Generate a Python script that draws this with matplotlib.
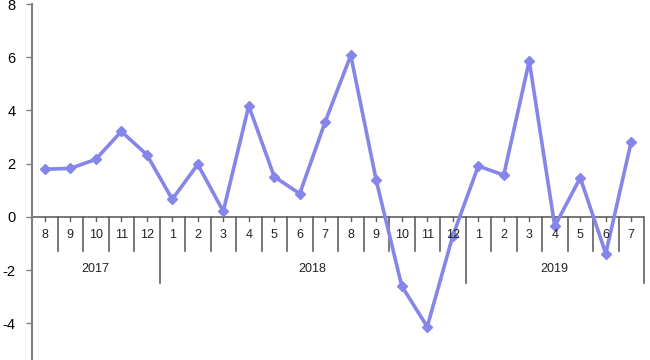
import numpy as np
import matplotlib
matplotlib.use('Agg')
import matplotlib.pyplot as plt

plt.rcParams['font.family'] = ['Liberation Sans', 'DejaVu Sans']

# months shown on the x axis, grouped by year
years = ['2017', '2018', '2019']
months = [
    [8, 9, 10, 11, 12],
    [1, 2, 3, 4, 5, 6, 7, 8, 9, 10, 11, 12],
    [1, 2, 3, 4, 5, 6, 7],
]
values = [1.79, 1.82, 2.16, 3.21, 2.34,
          0.66, 1.97, 0.21, 4.17, 1.51, 0.87, 3.58, 6.07, 1.37, -2.60, -4.13, -0.72,
          1.91, 1.57, 5.86, -0.35, 1.47, -1.38, 2.83]

line_col = '#8585ea'
axis_col = '#808080'

fig = plt.figure(figsize=(6.5, 3.6), dpi=100)
ax = fig.add_axes([32 / 650, 0, 612 / 650, 356 / 360])

x = np.arange(len(values))
ax.plot(x, values, color=line_col, lw=2.6, marker='D', ms=5.5, zorder=3)

n = len(values)
ax.set_xlim(-0.5, n - 0.5)
ax.set_ylim(-5.38, 8)
ax.set_yticks([-4, -2, 0, 2, 4, 6, 8])
ax.set_yticklabels(['-4', '-2', '0', '2', '4', '6', '8'])
ax.tick_params(axis='y', length=4, width=1, color=axis_col, pad=8, labelsize=10.5)
ax.set_xticks([])
for s in ['top', 'right', 'bottom']:
    ax.spines[s].set_visible(False)
ax.spines['left'].set_color(axis_col)
ax.spines['left'].set_linewidth(1.5)

# category axis at y = 0
ax.axhline(0, color='#606060', lw=1.2, zorder=2)

unit = 26.6  # pixels per y unit
i = 0
for yr, ms in zip(years, months):
    start = i
    for m in ms:
        ax.plot([i, i], [0, -4 / unit], color='#606060', lw=1, clip_on=False)
        ax.text(i, -18 / unit, str(m), ha='center', va='center', fontsize=9, color='#222222')
        if i > start:
            ax.plot([i - 0.5, i - 0.5], [0, -34 / unit], color='#606060', lw=1.2, clip_on=False)
        i += 1
    ax.plot([start - 0.5, start - 0.5], [0, -66 / unit], color='#606060', lw=1.2, clip_on=False)
    ax.text((start + i - 1) / 2, -52 / unit, yr, ha='center', va='center', fontsize=9, color='#222222')
ax.plot([n - 0.5, n - 0.5], [0, -66 / unit], color='#606060', lw=1.2, clip_on=False)

fig.savefig('out.png', dpi=100)
